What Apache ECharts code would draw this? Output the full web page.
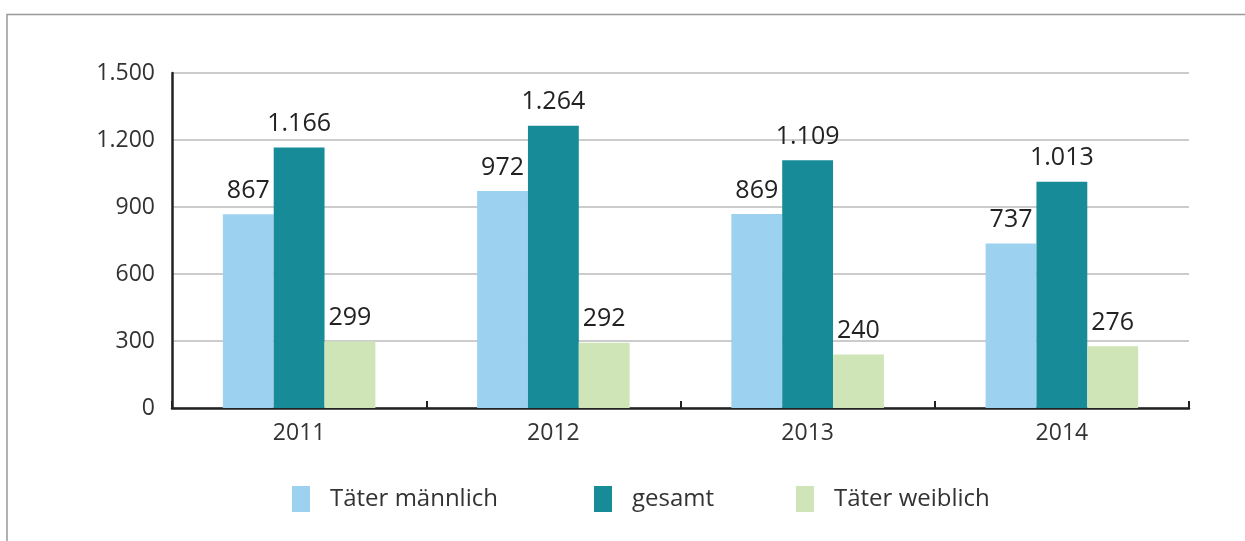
<!DOCTYPE html>
<html><head><meta charset="utf-8">
<script src="https://cdn.jsdelivr.net/npm/echarts@6/dist/echarts.min.js"></script>
<style>html,body{margin:0;padding:0;background:#fff}#c{width:1245px;height:541px}</style>
</head><body><div id="c"></div>
<script>
const categories = ['2011','2012','2013','2014'];
const maleValues = [867, 972, 869, 737];
const totalValues = [1166, 1264, 1109, 1013];
const femaleValues = [299, 292, 240, 276];
const seriesNames = ['Täter männlich','gesamt','Täter weiblich'];
const colors = ['#9dd1f0','#178c98','#cfe5b8'];

const fmt = v => String(v).replace(/\B(?=(\d{3})+(?!\d))/g, '.');
const FONT = 'Open Sans';
const chart = echarts.init(document.getElementById('c'));
const mk = (name, data, color) => ({
  name, type: 'bar', data, barGap: '0%', barCategoryGap: '40%',
  itemStyle: { color },
  label: { show: true, position: 'top', distance: 11, color: '#222', fontSize: 25, fontFamily: FONT,
    formatter: p => fmt(p.value) }
});
const legendBase = (i, left) => ({
  data: [seriesNames[i]], left, top: 481, itemWidth: 18, itemHeight: 26, itemGap: 0,
  icon: 'rect', textStyle: { fontSize: 24, color: '#333', fontFamily: FONT, padding: [0,0,0,15] }
});
chart.setOption({
  animation: false,
  graphic: [{ type: 'polyline', shape: { points: [[7, 541], [7, 14.5], [1245, 14.5]] },
    style: { stroke: '#999', lineWidth: 1.5, fill: null } }],
  grid: { left: 172, right: 56, top: 73, bottom: 133 },
  legend: [legendBase(0, 287), legendBase(1, 589), legendBase(2, 791)],
  xAxis: {
    type: 'category', data: categories,
    axisLine: { lineStyle: { color: '#222', width: 2.5 } },
    axisTick: { show: true, inside: true, length: 7, lineStyle: { color: '#222', width: 2 } },
    axisLabel: { fontSize: 23, color: '#333', fontFamily: FONT, margin: 14 }
  },
  yAxis: {
    type: 'value', min: 0, max: 1500, interval: 300,
    axisLine: { show: true, lineStyle: { color: '#222', width: 2.5 } },
    axisTick: { show: false },
    splitLine: { lineStyle: { color: '#bbb', width: 1.5 } },
    axisLabel: { fontSize: 23, color: '#333', fontFamily: FONT, margin: 17, formatter: v => fmt(v) }
  },
  series: [mk(seriesNames[0], maleValues, colors[0]), mk(seriesNames[1], totalValues, colors[1]), mk(seriesNames[2], femaleValues, colors[2])]
});
</script></body></html>
